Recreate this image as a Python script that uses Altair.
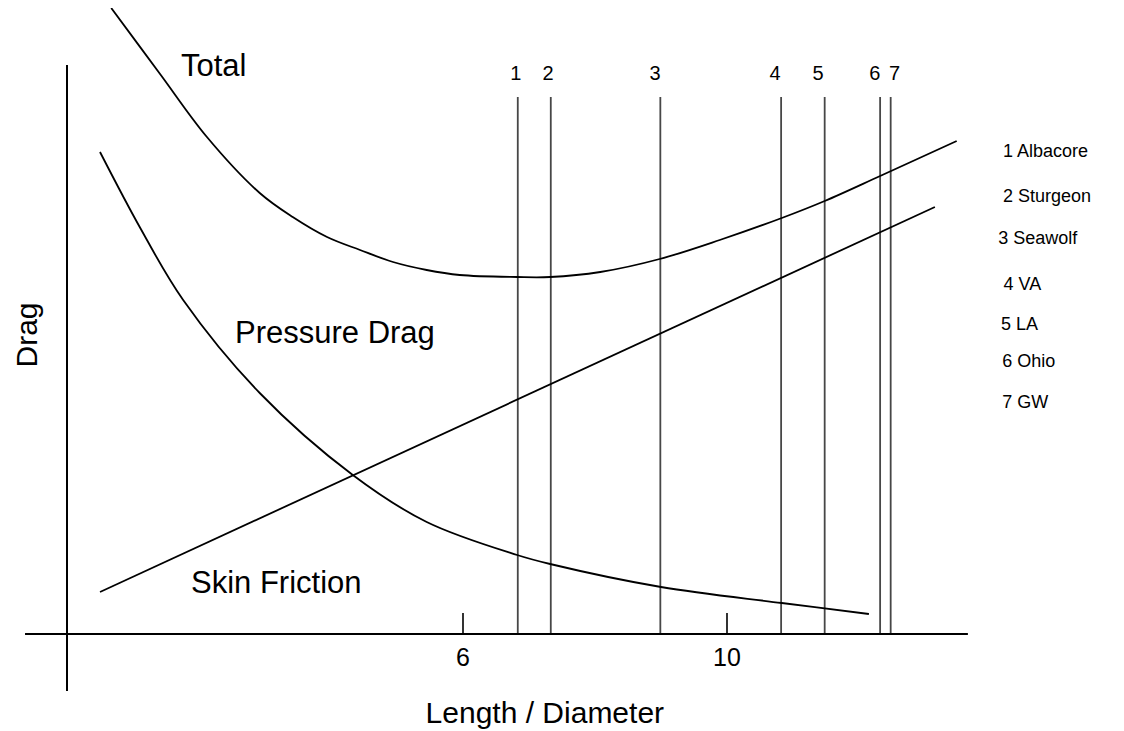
import altair as alt
import pandas as pd

# ---- data ----
total_x = [0.67, 1.41, 2.12, 2.92, 3.42, 3.94, 4.44, 4.94, 5.45, 5.95, 6.82, 7.32, 8.08, 8.98, 9.89, 10.83, 11.48, 12.32, 13.48]
total_y = [62.6, 56.0, 49.7, 44.1, 41.7, 39.7, 38.4, 37.2, 36.4, 35.9, 35.7, 35.7, 36.2, 37.5, 39.4, 41.6, 43.3, 45.8, 49.3]

pressure_x = [0.50, 1.11, 1.76, 2.92, 4.33, 5.45, 6.82, 7.32, 9.00, 10.83, 12.15]
pressure_y = [48.2, 40.6, 33.4, 24.1, 15.9, 11.2, 7.9, 7.0, 4.7, 3.1, 2.0]

friction_x = [0.5, 13.15]
friction_y = [4.2, 42.7]

sub_numbers = ["1", "2", "3", "4", "5", "6", "7"]
sub_names = ["Albacore", "Sturgeon", "Seawolf", "VA", "LA", "Ohio", "GW"]
sub_ld = [6.83, 7.33, 8.99, 10.82, 11.48, 12.32, 12.48]
sub_line_top = 53.7

tick_values = [6, 10]
tick_labels = ["6", "10"]

curve_labels = ["Total", "Pressure Drag", "Skin Friction"]

# ---- layout helpers (annotation placement) ----
X0, X1 = -0.894, 15.894
Y0, Y1 = -9.7, 62.6
W, H = 1108, 723

xs = alt.Scale(domain=[X0, X1], nice=False, zero=False)
ys = alt.Scale(domain=[Y0, Y1], nice=False, zero=False)


def X(f="x"):
    return alt.X(f"{f}:Q", scale=xs, axis=None)


def Y(f="y"):
    return alt.Y(f"{f}:Q", scale=ys, axis=None)


FONT = "Liberation Sans"

# curves
curves_df = pd.concat([
    pd.DataFrame({"x": total_x, "y": total_y, "s": "Total"}),
    pd.DataFrame({"x": pressure_x, "y": pressure_y, "s": "Pressure"}),
    pd.DataFrame({"x": friction_x, "y": friction_y, "s": "Friction"}),
])
curves = alt.Chart(curves_df).mark_line(
    color="black", strokeWidth=1.8, interpolate="catmull-rom"
).encode(x=X(), y=Y(), detail="s:N")

# submarine vertical lines
num_x = [6.80, 7.29, 8.91, 10.73, 11.38, 12.24, 12.54]
subs_df = pd.DataFrame({"x": sub_ld, "y": [0] * 7, "y2": [sub_line_top] * 7,
                        "num": sub_numbers, "nx": num_x, "ny": [55.4] * 7})
sub_rules = alt.Chart(subs_df).mark_rule(color="#474747", strokeWidth=1.8).encode(
    x=X(), y=Y(), y2="y2:Q"
)
sub_nums = alt.Chart(subs_df).mark_text(
    font=FONT, fontSize=20, align="center", baseline="alphabetic", color="black"
).encode(x=X("nx"), y=Y("ny"), text="num:N")

# legend text on right
legend_df = pd.DataFrame({
    "t": [f"{n} {s}" for n, s in zip(sub_numbers, sub_names)],
    "x": [14.18, 14.18, 14.11, 14.19, 14.15, 14.17, 14.17],
    "y": [47.7, 43.2, 39.0, 34.4, 30.4, 26.7, 22.6],
})
legend = alt.Chart(legend_df).mark_text(
    font=FONT, fontSize=18, align="left", baseline="alphabetic", color="black"
).encode(x=X(), y=Y(), text="t:N")

# axes drawn as lines
xaxis_df = pd.DataFrame({"x": [-0.636], "x2": [13.65], "y": [0]})
xaxis = alt.Chart(xaxis_df).mark_rule(color="black", strokeWidth=2).encode(
    x=X(), x2="x2:Q", y=Y())
yaxis_df = pd.DataFrame({"x": [0], "y": [-5.7], "y2": [56.9]})
yaxis = alt.Chart(yaxis_df).mark_rule(color="black", strokeWidth=2).encode(
    x=X(), y=Y(), y2="y2:Q")

ticks_df = pd.DataFrame({"x": tick_values, "y": [0, 0], "y2": [2.1, 2.1],
                         "lab": tick_labels, "ly": [-3.15, -3.15]})
ticks = alt.Chart(ticks_df).mark_rule(color="black", strokeWidth=1.6).encode(
    x=X(), y=Y(), y2="y2:Q")
tick_text = alt.Chart(ticks_df).mark_text(
    font=FONT, fontSize=25, align="center", baseline="alphabetic", color="black"
).encode(x=X(), y=Y("ly"), text="lab:N")

# curve labels
clab_df = pd.DataFrame({"t": curve_labels, "x": [1.727, 2.545, 1.879], "y": [55.8, 29.07, 4.1]})
clabels = alt.Chart(clab_df).mark_text(
    font=FONT, fontSize=31, align="left", baseline="alphabetic", color="black"
).encode(x=X(), y=Y(), text="t:N")

# axis titles
xt_df = pd.DataFrame({"t": ["Length / Diameter"], "x": [7.24], "y": [-8.9]})
xtitle = alt.Chart(xt_df).mark_text(
    font=FONT, fontSize=30, align="center", baseline="alphabetic", color="black"
).encode(x=X(), y=Y(), text="t:N")
yt_df = pd.DataFrame({"t": ["Drag"], "x": [-0.459], "y": [29.9]})
ytitle = alt.Chart(yt_df).mark_text(
    font=FONT, fontSize=30, align="center", baseline="alphabetic", angle=270, color="black"
).encode(x=X(), y=Y(), text="t:N")

chart = alt.layer(
    sub_rules, xaxis, yaxis, ticks, curves, sub_nums, legend, tick_text, clabels, xtitle, ytitle
).properties(
    width=W, height=H, padding=0,
    autosize=alt.AutoSizeParams(type="none"),
    background="white",
).configure_view(strokeWidth=0)

chart.save("out.html", embed_options={"renderer": "svg", "actions": False})
